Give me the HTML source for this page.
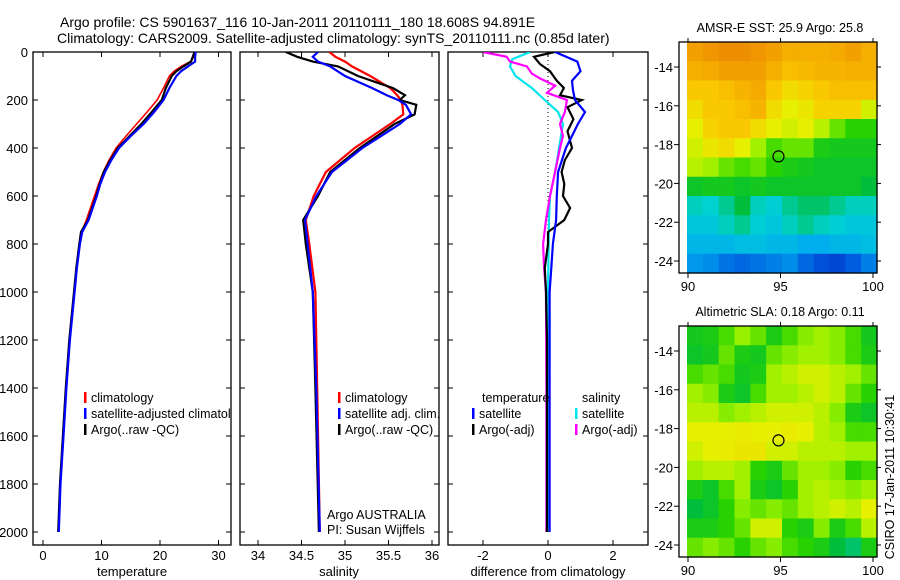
<!DOCTYPE html>
<html><head><meta charset="utf-8"><style>
html,body{margin:0;padding:0;background:#fff;}
svg{display:block;font-family:"Liberation Sans",sans-serif;}
</style></head><body>
<svg id="fig" width="900" height="580" viewBox="0 0 900 580" xmlns="http://www.w3.org/2000/svg">
<rect width="900" height="580" fill="#fff"/>
<text x="60" y="27" font-size="14">Argo profile: CS 5901637_116 10-Jan-2011 20110111_180 18.608S 94.891E</text>
<text x="57" y="43" font-size="14">Climatology: CARS2009. Satellite-adjusted climatology: synTS_20110111.nc (0.85d later)</text>
<text x="780" y="32" font-size="12.5" text-anchor="middle">AMSR-E SST: 25.9 Argo: 25.8</text>
<text x="780" y="316" font-size="12.5" text-anchor="middle">Altimetric SLA: 0.18 Argo: 0.11</text>
<text transform="translate(894,477) rotate(-90)" font-size="12.5" text-anchor="middle">CSIRO 17-Jan-2011 10:30:41</text>
<g id="g"></g>
</svg>
<script>
// ---- data ----
const depths = [0,20,40,60,80,100,150,200,250,300,350,400,450,500,550,600,650,700,750,800,900,1000,1200,1400,1600,1800,2000];
const tempArgo = [25.9,25.6,25.3,24.0,22.8,22.0,21.0,20.3,18.6,16.8,14.8,12.8,11.5,10.4,9.7,9.1,8.4,7.7,6.5,6.2,5.7,5.3,4.5,3.9,3.4,2.9,2.6];
const tempClim = [26.0,25.8,25.2,23.6,22.4,21.6,20.6,19.5,17.8,16.0,14.2,12.5,11.3,10.3,9.5,8.8,8.1,7.4,6.6,6.2,5.7,5.3,4.5,3.9,3.4,2.9,2.6];
const tempSat = [26.1,26.0,26.0,24.8,23.6,22.8,21.6,20.6,19.0,17.2,15.0,13.0,11.7,10.6,9.8,9.2,8.5,7.8,6.7,6.3,5.8,5.4,4.6,4.0,3.5,3.0,2.7];
const salDepths = [0,20,40,60,100,150,180,200,220,260,300,400,500,600,700,800,1000,1400,2000];
const salArgo = [34.32,34.45,34.63,34.92,35.15,35.55,35.69,35.63,35.82,35.80,35.57,35.17,34.83,34.69,34.52,34.55,34.63,34.66,34.70];
const salClim = [34.82,34.89,35.00,35.08,35.29,35.52,35.60,35.64,35.66,35.67,35.52,35.11,34.78,34.64,34.55,34.59,34.66,34.68,34.71];
const salSat = [34.69,34.63,34.69,34.83,35.00,35.31,35.48,35.61,35.70,35.76,35.63,35.20,34.85,34.67,34.54,34.57,34.63,34.67,34.71];
const dTsatDepth = [0,40,80,120,160,200,250,300,350,400,500,600,700,800,900,1000,1400,2000];
const dTsat = [0.22,0.9,1.0,0.74,0.77,0.83,1.14,0.92,0.74,0.55,0.31,0.27,0.25,0.15,0.1,0.05,0.05,0.05];
const dTargoDepth = [0,20,50,80,120,150,180,200,230,280,330,400,450,500,550,600,650,700,750,800,900,1000,1200,1400,2000];
const dTargo = [0.2,-0.43,-0.25,0.06,0.27,0.49,0.37,1.04,0.6,0.78,0.6,0.74,0.52,0.42,0.5,0.46,0.68,0.5,0.0,0.0,-0.1,-0.06,-0.03,-0.03,-0.03];
const dSsatDepth = [0,30,60,100,150,200,250,300,400,500,600,700,1000,2000];
const dSsat = [-0.55,-1.1,-1.17,-1.0,-0.5,-0.1,0.31,0.46,0.34,0.22,0.06,0.03,0.0,0.03];
const dSargoDepth = [0,20,40,60,90,110,140,170,200,250,300,350,400,500,600,700,800,900,1000,1400,2000];
const dSargo = [-2.0,-1.27,-1.17,-0.65,-0.5,-0.25,0.22,-0.03,0.58,0.52,0.37,0.46,0.37,0.22,0.06,-0.06,-0.15,-0.12,-0.06,-0.05,-0.05];
const depthTicks = [0,200,400,600,800,1000,1200,1400,1600,1800,2000];
const tempTicks = [0,10,20,30];
const salTicks = [34,34.5,35,35.5,36];
const salTickLabels = ["34","34.5","35","35.5","36"];
const diffTicks = [-2,0,2];
const lonTicks = [90,95,100];
const latTicks = [-14,-16,-18,-20,-22,-24];
const sstGrid = [
[0.88,0.9,0.92,0.92,0.9,0.88,0.85,0.85,0.85,0.86,0.88,0.85],
[0.85,0.86,0.88,0.88,0.88,0.85,0.82,0.83,0.84,0.84,0.85,0.85],
[0.8,0.8,0.82,0.84,0.86,0.8,0.76,0.78,0.8,0.82,0.82,0.82],
[0.76,0.8,0.8,0.82,0.84,0.76,0.72,0.74,0.78,0.78,0.78,0.7],
[0.72,0.78,0.8,0.8,0.76,0.72,0.7,0.72,0.68,0.62,0.58,0.58],
[0.7,0.74,0.76,0.72,0.66,0.6,0.62,0.62,0.56,0.55,0.55,0.55],
[0.68,0.66,0.62,0.6,0.62,0.58,0.56,0.55,0.54,0.54,0.54,0.54],
[0.54,0.55,0.55,0.54,0.55,0.54,0.54,0.54,0.54,0.54,0.54,0.52],
[0.46,0.45,0.48,0.52,0.46,0.44,0.48,0.5,0.5,0.48,0.46,0.46],
[0.42,0.42,0.46,0.48,0.44,0.42,0.46,0.48,0.46,0.44,0.42,0.42],
[0.38,0.38,0.38,0.4,0.4,0.38,0.38,0.36,0.36,0.38,0.38,0.4],
[0.32,0.3,0.26,0.24,0.26,0.28,0.3,0.24,0.2,0.18,0.22,0.28]];
const slaGrid = [
[0.55,0.56,0.6,0.65,0.62,0.56,0.6,0.64,0.66,0.64,0.6,0.55],
[0.54,0.55,0.62,0.56,0.55,0.62,0.64,0.66,0.66,0.64,0.6,0.56],
[0.6,0.62,0.6,0.55,0.56,0.66,0.68,0.7,0.7,0.68,0.66,0.62],
[0.66,0.64,0.56,0.54,0.6,0.66,0.66,0.68,0.7,0.68,0.62,0.58],
[0.68,0.68,0.64,0.66,0.68,0.7,0.7,0.7,0.68,0.64,0.56,0.54],
[0.72,0.72,0.72,0.73,0.72,0.72,0.73,0.72,0.68,0.66,0.6,0.6],
[0.7,0.72,0.73,0.74,0.74,0.7,0.7,0.68,0.68,0.68,0.66,0.66],
[0.66,0.68,0.68,0.66,0.58,0.56,0.62,0.66,0.66,0.64,0.58,0.6],
[0.56,0.54,0.6,0.66,0.56,0.54,0.58,0.66,0.68,0.66,0.64,0.66],
[0.52,0.54,0.58,0.64,0.62,0.64,0.62,0.66,0.68,0.7,0.68,0.72],
[0.56,0.56,0.58,0.62,0.7,0.7,0.58,0.56,0.64,0.56,0.6,0.68],
[0.62,0.64,0.62,0.58,0.62,0.64,0.6,0.58,0.56,0.52,0.5,0.56]];
const argoLon = 94.891, argoLat = -18.608;

// ---- helpers ----
const NS="http://www.w3.org/2000/svg";
const G=document.getElementById('g');
function el(t,a,p){const e=document.createElementNS(NS,t);for(const k in a)e.setAttribute(k,a[k]);(p||G).appendChild(e);return e;}
const yD = d => 52 + d*0.24;
const xT = t => 43 + t*5.85;
const xS = s => 258 + (s-34)*87;
const xDf = v => 548 + v*32.5;
const PT=52, PB=545;
const panels=[[33,231],[240,439],[448,648]];

panels.forEach((p,i)=>{
  const r=el('rect',{x:p[0],y:PT,width:p[1]-p[0],height:PB-PT,fill:'none',stroke:'#000','stroke-width':1.3});
  
  
  depthTicks.forEach(d=>{
    el('line',{x1:p[0],x2:p[0]+5,y1:yD(d),y2:yD(d),stroke:'#000'});
    el('line',{x1:p[1],x2:p[1]-5,y1:yD(d),y2:yD(d),stroke:'#000'});
  });
});
depthTicks.forEach(d=>{
  const t=el('text',{x:28,y:yD(d)+5,'font-size':13,'text-anchor':'end'});
  t.textContent=d;
  
  
});
function xticks(vals,labels,fx,p){
  vals.forEach((v,i)=>{
    const x=fx(v);
    el('line',{x1:x,x2:x,y1:PT,y2:PT+5,stroke:'#000'});
    el('line',{x1:x,x2:x,y1:PB,y2:PB-5,stroke:'#000'});
    const t=el('text',{x:x,y:560,'font-size':13,'text-anchor':'middle'});
    t.textContent=labels[i];
    
    
  });
}
xticks(tempTicks,tempTicks.map(String),xT);
xticks(salTicks,salTickLabels,xS);
xticks(diffTicks,diffTicks.map(String),xDf);
[[132,'temperature','temperature-axis-title'],[339,'salinity','salinity-axis-title'],[548,'difference from climatology','difference-axis-title']].forEach(a=>{
  const t=el('text',{x:a[0],y:576,'font-size':13,'text-anchor':'middle'});
  t.textContent=a[1];
  
  
});

// clip paths
const defs=el('defs',{});
panels.forEach((p,i)=>{const c=el('clipPath',{id:'c'+i},defs);el('rect',{x:p[0],y:PT,width:p[1]-p[0],height:PB-PT},c);});

function line(ds,vs,fx,col,name,clip,w){
  const pts=ds.map((d,i)=>fx(vs[i]).toFixed(1)+','+yD(d).toFixed(1)).join(' ');
  const e=el('polyline',{points:pts,fill:'none',stroke:col,'stroke-width':w||2.2,'clip-path':'url(#c'+clip+')'});
  
  
}
line(depths,tempClim,xT,'#f00','temp-climatology-line',0,1.6);
line(depths,tempArgo,xT,'#000','temp-argo-line',0);
line(depths,tempSat,xT,'#00f','temp-satellite-line',0);
line(salDepths,salClim,xS,'#f00','sal-climatology-line',1);
line(salDepths,salArgo,xS,'#000','sal-argo-line',1);
line(salDepths,salSat,xS,'#00f','sal-satellite-line',1);
const zl=el('line',{x1:xDf(0),x2:xDf(0),y1:PT,y2:yD(2000),stroke:'#000','stroke-dasharray':'1,3'});


line(dSsatDepth,dSsat,xDf,'#00e5ee','diff-sal-satellite-line',2);
line(dSargoDepth,dSargo,xDf,'#f0f','diff-sal-argo-line',2);
line(dTargoDepth,dTargo,xDf,'#000','diff-temp-argo-line',2);
line(dTsatDepth,dTsat,xDf,'#00f','diff-temp-satellite-line',2);

// legends
function leg(x,y,col,txt,name,clip){
  if(col){const b=el('rect',{x:x,y:y-10,width:2.5,height:11,fill:col});}
  const t=el('text',{x:x+7,y:y,'font-size':12.5});
  if(clip!==undefined)t.setAttribute('clip-path','url(#c'+clip+')');
  t.textContent=txt;
  
  
}
leg(84,402,'#f00','climatology','legend-climatology',0);
leg(84,418,'#00f','satellite-adjusted climatology','legend-satellite-adjusted',0);
leg(84,434,'#000','Argo(..raw -QC)','legend-argo',0);
leg(338,402,'#f00','climatology','legend-sal-climatology');
leg(338,418,'#00f','satellite adj. clim.','legend-sal-satellite');
leg(338,434,'#000','Argo(..raw -QC)','legend-sal-argo');
leg(320,519,null,'Argo AUSTRALIA','argo-australia-label');
leg(320,534,null,'PI: Susan Wijffels','pi-label');
leg(475,402,null,'temperature','legend-temperature-heading');
leg(472,418,'#00f','satellite','legend-diff-temp-satellite');
leg(472,434,'#000','Argo(-adj)','legend-diff-temp-argo');
leg(575,402,null,'salinity','legend-salinity-heading');
leg(575,418,'#00e5ee','satellite','legend-diff-sal-satellite');
leg(575,434,'#f0f','Argo(-adj)','legend-diff-sal-argo');

// maps
const stops=[[0,[0,0,140]],[0.2,[0,80,220]],[0.35,[0,170,240]],[0.45,[0,210,210]],[0.52,[0,190,60]],[0.58,[40,210,0]],[0.65,[150,240,0]],[0.72,[230,240,0]],[0.8,[250,200,0]],[0.9,[240,150,0]],[1,[220,110,0]]];
function cmap(v){for(let i=1;i<stops.length;i++){if(v<=stops[i][0]){const a=stops[i-1],b=stops[i],f=(v-a[0])/(b[0]-a[0]);return 'rgb('+a[1].map((c,k)=>Math.round(c+(b[1][k]-c)*f)).join(',')+')';}}return 'rgb(220,110,0)';}
function drawMap(grid,top,name){
  const L=679,R=877,B=top+231;
  const xL=lon=>688+(lon-90)*18.5, yL=lat=>top+25+(-14-lat)*19.4;
  const rows=grid.length, cols=grid[0].length;
  const x0=687,x1=R,ch=(B-top)/rows,cw=(x1-x0)/cols;
  grid.forEach((row,r)=>row.forEach((v,c)=>{
    const e=el('rect',{x:x0+c*cw,y:top+r*ch,width:cw+0.6,height:ch+0.6,fill:cmap(v)});
    
    
  }));
  const f=el('rect',{x:L,y:top,width:R-L,height:B-top,fill:'none',stroke:'#000','stroke-width':1.3});
  
  
  lonTicks.forEach(l=>{const x=xL(l);el('line',{x1:x,x2:x,y1:B,y2:B+5,stroke:'#000'});el('line',{x1:x,x2:x,y1:top,y2:top-4,stroke:'#000'});
    const t=el('text',{x:x,y:B+18,'font-size':13,'text-anchor':'middle'});t.textContent=l;});
  latTicks.forEach(l=>{const y=yL(l);el('line',{x1:L,x2:L-5,y1:y,y2:y,stroke:'#000'});el('line',{x1:R,x2:R+4,y1:y,y2:y,stroke:'#000'});
    const t=el('text',{x:L-6,y:y+5,'font-size':13,'text-anchor':'end'});t.textContent=l;});
  const c=el('circle',{cx:xL(argoLon),cy:yL(argoLat),r:5.5,fill:'none',stroke:'#000','stroke-width':1.2});
  
  
}
drawMap(sstGrid,42,'sst-map');
drawMap(slaGrid,326,'sla-map');
</script>
</body></html>
